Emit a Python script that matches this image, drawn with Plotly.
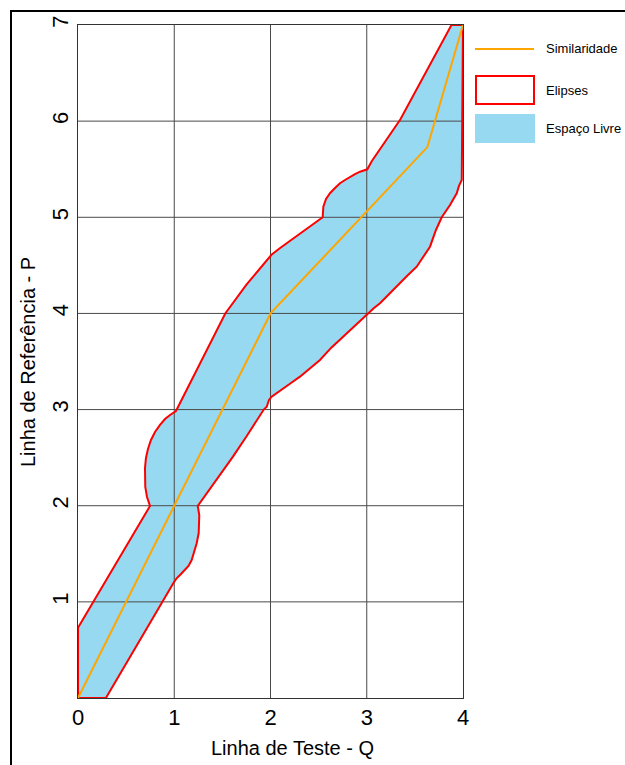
import plotly.graph_objects as go

# Similarity path between the test line (Q) and the reference line (P)
sim_q = [0, 1, 2, 3.63, 4]
sim_p = [0, 2, 4, 5.73, 7]

# Free-space envelope (union of ellipses): upper/left edge, from the origin up to the top
upper_q = [0, 0, 0.748, 0.717, 0.699, 0.696, 0.696, 0.706, 0.727, 0.758, 0.800,
           0.852, 0.904, 0.956, 1.018, 1.53, 1.75, 2.01, 2.10, 2.542, 2.549, 2.577,
           2.618, 2.670, 2.722, 2.774, 2.826, 2.878, 2.930, 3.006, 3.05, 3.35, 3.88,
           4.0]
upper_p = [0, 0.73, 1.997, 2.091, 2.195, 2.288, 2.392, 2.496, 2.590, 2.684, 2.767,
           2.840, 2.902, 2.944, 2.985, 4.0, 4.30, 4.61, 4.68, 5.000, 5.110, 5.190,
           5.250, 5.305, 5.354, 5.388, 5.422, 5.450, 5.474, 5.499, 5.58, 6.02, 7.0,
           7.0]

# lower/right edge, from the top back down to the origin
lower_q = [4.0, 3.987, 3.958, 3.935, 3.865, 3.779, 3.719, 3.657, 3.584, 3.519, 3.418,
           3.311, 3.221, 3.138, 3.075, 3.016, 2.878, 2.756, 2.629, 2.514, 2.410,
           2.306, 2.213, 2.133, 2.068, 2.012, 1.984, 1.961, 1.93, 1.82, 1.75, 1.61,
           1.44, 1.27, 1.244, 1.260, 1.260, 1.254, 1.233, 1.210, 1.181, 1.148, 1.112,
           1.070, 1.025, 0.990, 0.29, 0]
lower_p = [7.0, 5.388, 5.326, 5.250, 5.128, 5.000, 4.868, 4.694, 4.587, 4.486, 4.389,
           4.278, 4.192, 4.106, 4.057, 4.001, 3.880, 3.758, 3.641, 3.516, 3.427,
           3.342, 3.276, 3.221, 3.178, 3.134, 3.100, 3.030, 3.0, 2.82, 2.72, 2.51,
           2.27, 2.03, 1.997, 1.903, 1.817, 1.716, 1.609, 1.519, 1.435, 1.373, 1.331,
           1.290, 1.245, 1.193, 0.0, 0.0]

x_ticks = [0, 1, 2, 3, 4]
y_ticks = [1, 2, 3, 4, 5, 6, 7]
x_range = [0, 4]
y_range = [0, 7]

legend_labels = ["Similaridade", "Elipses", "Espaço Livre"]

FILL = "#97D9F0"
RED = "#FF0000"
ORANGE = "#FFA500"
GRID = "#4a4a4a"
FONT = "Liberation Sans, Arial, sans-serif"

# figure geometry (pixels)
FW, FH = 625, 765
L, R, T, B = 78, 162, 25, 67
PW, PH = FW - L - R, FH - T - B


def px_x(p):
    return (p - L) / PW


def px_y(p):
    return (T + PH - p) / PH


poly_q = upper_q + lower_q[1:]
poly_p = upper_p + lower_p[1:]

fig = go.Figure()

# free-space fill
fig.add_trace(go.Scatter(x=poly_q, y=poly_p, mode="lines", fill="toself",
                         fillcolor=FILL, line=dict(width=0), hoverinfo="skip"))

# grid lines drawn over the fill
gx, gy = [], []
for v in x_ticks[1:-1]:
    gx += [v, v, None]
    gy += [y_range[0], y_range[1], None]
for v in y_ticks[:-1]:
    gx += [x_range[0], x_range[1], None]
    gy += [v, v, None]
fig.add_trace(go.Scatter(x=gx, y=gy, mode="lines", line=dict(color=GRID, width=1),
                         hoverinfo="skip", connectgaps=False))

# ellipse envelope outline
fig.add_trace(go.Scatter(x=poly_q, y=poly_p, mode="lines",
                         line=dict(color=RED, width=2), hoverinfo="skip"))

# similarity path
fig.add_trace(go.Scatter(x=sim_q, y=sim_p, mode="lines",
                         line=dict(color=ORANGE, width=2), hoverinfo="skip"))

shapes = []
annotations = []

# outer frame of the figure
shapes.append(dict(type="rect", xref="paper", yref="paper",
                   x0=px_x(11), x1=px_x(FW + 20), y0=px_y(FH + 20), y1=px_y(11),
                   line=dict(color="#000000", width=2), fillcolor="rgba(0,0,0,0)",
                   layer="above"))

# legend
lx0, lx1, tx = 475, 534, 544
shapes.append(dict(type="line", xref="paper", yref="paper",
                   x0=px_x(lx0), x1=px_x(lx1), y0=px_y(49), y1=px_y(49),
                   line=dict(color=ORANGE, width=2)))
shapes.append(dict(type="rect", xref="paper", yref="paper",
                   x0=px_x(lx0 + 1), x1=px_x(lx1), y0=px_y(104), y1=px_y(76),
                   line=dict(color=RED, width=2), fillcolor="#FFFFFF"))
shapes.append(dict(type="rect", xref="paper", yref="paper",
                   x0=px_x(lx0), x1=px_x(lx1 + 1), y0=px_y(143), y1=px_y(114),
                   line=dict(width=0), fillcolor=FILL))
for label, yc in zip(legend_labels, [49, 90, 128]):
    annotations.append(dict(text=label, xref="paper", yref="paper",
                            x=px_x(tx), y=px_y(yc), xanchor="left", yanchor="middle",
                            showarrow=False, font=dict(family=FONT, size=13, color="#000")))

# axis titles
annotations.append(dict(text="Linha de Teste - Q", xref="paper", yref="paper",
                        x=px_x(292), y=px_y(748), xanchor="center", yanchor="middle",
                        showarrow=False, font=dict(family=FONT, size=20, color="#000")))
annotations.append(dict(text="Linha de Referência - P", xref="paper", yref="paper",
                        x=px_x(28), y=px_y(362), xanchor="center", yanchor="middle",
                        textangle=-90, showarrow=False,
                        font=dict(family=FONT, size=20, color="#000")))

fig.update_layout(
    width=FW, height=FH,
    margin=dict(l=L, r=R, t=T, b=B, pad=0),
    paper_bgcolor="white", plot_bgcolor="white",
    showlegend=False,
    shapes=shapes, annotations=annotations,
    font=dict(family=FONT, color="#000"),
    xaxis=dict(range=x_range, tickvals=x_ticks, ticktext=[str(v) for v in x_ticks],
               showgrid=False, zeroline=False, showline=True, mirror=True,
               linecolor="#333", linewidth=1, ticks="", tickfont=dict(size=22),
               fixedrange=True),
    yaxis=dict(range=y_range, tickvals=y_ticks, ticktext=[str(v) for v in y_ticks],
               showgrid=False, zeroline=False, showline=True, mirror=True,
               linecolor="#333", linewidth=1, ticks="", tickfont=dict(size=22),
               tickangle=-90, fixedrange=True),
)

fig.write_html("out.html")
